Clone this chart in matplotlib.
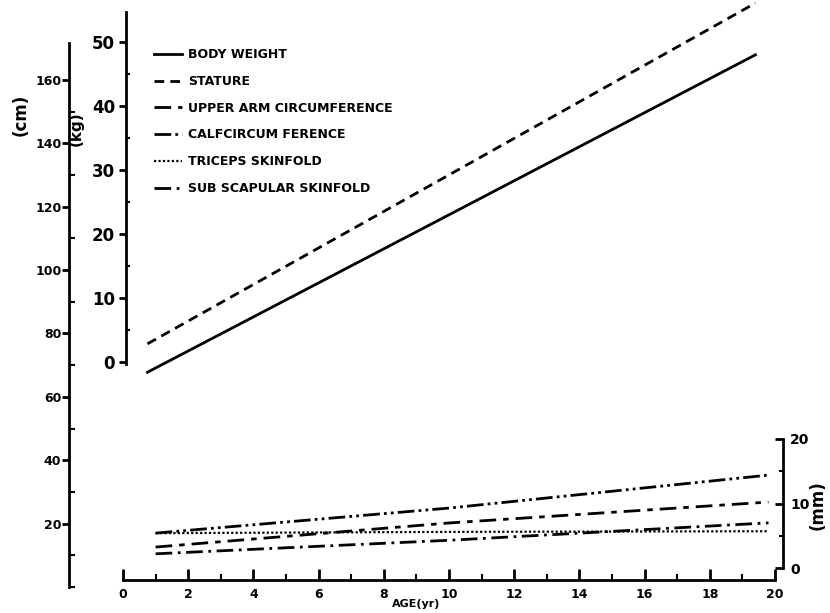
import matplotlib
matplotlib.use("Agg")
import matplotlib.pyplot as plt

plt.rcParams['font.family'] = ['DejaVu Sans']
plt.rcParams['font.weight'] = 'bold'

# growth lines (upper part)
age_growth = [0.75, 10.0, 19.4]
body_weight = [-1.6, 23.0, 48.0]      # kg
stature = [76.7, 130.0, 184.2]        # cm

# circumferences / skinfolds (lower part)
age_lower = [1.0, 10.0, 19.8]
calf_circ = [17.0, 24.9, 35.3]        # cm
upper_arm_circ = [12.6, 20.2, 26.8]   # cm
triceps_sf = [5.4, 5.6, 5.7]          # mm
subscap_sf = [2.2, 4.3, 7.0]          # mm

cm_ticks = [20, 40, 60, 80, 100, 120, 140, 160]
cm_minor = [0, 10, 30, 50, 70, 90, 110, 130, 150]
kg_ticks = [0, 10, 20, 30, 40, 50]
mm_ticks = [0, 10, 20]
age_ticks = list(range(0, 21, 2))

legend_labels = ["BODY WEIGHT", "STATURE", "UPPER ARM CIRCUMFERENCE",
                 "CALFCIRCUM FERENCE", "TRICEPS SKINFOLD", "SUB SCAPULAR SKINFOLD"]

W, H = 830, 613
X0, PX_YR = 123, 32.6   # pixel of age 0, pixels per year
L, R = 40, 820


def ylim_for(px_zero, px_per_unit):
    return (-(H - px_zero) / px_per_unit, px_zero / px_per_unit)


def xdata(px):
    return (px - X0) / PX_YR


fig = plt.figure(figsize=(W / 100, H / 100), dpi=100)
rect = [L / W, 0, (R - L) / W, 1]
ax_cm = fig.add_axes(rect)
ax_kg = fig.add_axes(rect, sharex=ax_cm)
ax_mm = fig.add_axes(rect, sharex=ax_cm)

ax_cm.set_xlim(xdata(L), xdata(R))
ax_cm.set_ylim(*ylim_for(587, 3.17))
ax_kg.set_ylim(*ylim_for(362, 6.4))
ax_mm.set_ylim(*ylim_for(568, 6.45))

for ax in (ax_cm, ax_kg, ax_mm):
    ax.patch.set_visible(False)
    for s in ax.spines.values():
        s.set_visible(False)
        s.set_linewidth(2)

# ---- cm axis (left, outermost) + age axis
ax_cm.spines['left'].set_visible(True)
ax_cm.spines['left'].set_position(('data', xdata(69)))
ax_cm.spines['left'].set_bounds(0, 171.6)
ax_cm.set_yticks(cm_ticks)
ax_cm.set_yticks(cm_minor, minor=True)
ax_cm.tick_params(axis='y', which='major', direction='out', length=5, width=2, pad=0.5, labelsize=9)
ax_cm.tick_params(axis='y', which='minor', direction='in', length=4, width=1.5)

ax_cm.spines['bottom'].set_visible(True)
ax_cm.spines['bottom'].set_position(('axes', 1 - 580 / H))
ax_cm.spines['bottom'].set_bounds(0, 20)
ax_cm.set_xticks(age_ticks)
ax_cm.set_xticks(range(1, 20, 2), minor=True)
ax_cm.tick_params(axis='x', which='major', direction='in', length=8, width=2, pad=6, labelsize=9)
ax_cm.tick_params(axis='x', which='minor', direction='in', length=4, width=1.5)

# ---- kg axis
ax_kg.xaxis.set_visible(False)
ax_kg.spines['left'].set_visible(True)
ax_kg.spines['left'].set_position(('data', xdata(126)))
ax_kg.spines['left'].set_bounds(-0.3, 54.7)
ax_kg.set_yticks(kg_ticks)
ax_kg.set_yticks(range(5, 55, 10), minor=True)
ax_kg.tick_params(axis='y', which='major', direction='out', length=5, width=2, pad=3, labelsize=12)
ax_kg.tick_params(axis='y', which='minor', direction='in', length=3, width=1.5)

# ---- mm axis (right)
ax_mm.xaxis.set_visible(False)
ax_mm.yaxis.tick_right()
ax_mm.spines['right'].set_visible(True)
ax_mm.spines['right'].set_position(('data', xdata(783)))
ax_mm.spines['right'].set_bounds(0, 20)
ax_mm.set_yticks(mm_ticks)
ax_mm.set_yticks([5, 15], minor=True)
ax_mm.tick_params(axis='y', which='major', direction='in', length=6, width=2, pad=5, labelsize=10)
ax_mm.tick_params(axis='y', which='minor', direction='in', length=3, width=1.5)

# ---- lines
lw = 2
h_bw, = ax_kg.plot(age_growth, body_weight, color='black', lw=lw, ls='-')
h_st, = ax_cm.plot(age_growth, stature, color='black', lw=lw, ls=(0, (3.5, 2.2)))
h_ua, = ax_cm.plot(age_lower, upper_arm_circ, color='black', lw=lw, ls=(0, (6, 2.5, 2, 2.5)))
h_cc, = ax_cm.plot(age_lower, calf_circ, color='black', lw=lw, ls=(0, (6, 1.5, 1, 1.5, 1, 1.5)))
h_tr, = ax_mm.plot(age_lower, triceps_sf, color='black', lw=1.6, ls=(0, (1, 1)))
h_ss, = ax_mm.plot(age_lower, subscap_sf, color='black', lw=lw, ls=(0, (6, 2, 1, 2)))

ax_kg.legend([h_bw, h_st, h_ua, h_cc, h_tr, h_ss], legend_labels,
             loc='upper left', bbox_to_anchor=(148 / W, 1 - 42 / H),
             bbox_transform=fig.transFigure, frameon=False,
             prop={'size': 9, 'weight': 'bold'},
             handlelength=2.2, handletextpad=0.5, labelspacing=1.1, borderpad=0)

# ---- axis titles
fig.text(21 / W, 1 - 115 / H, "(cm)", rotation=90, ha='center', va='center', fontsize=12, fontweight='bold')
fig.text(76 / W, 1 - 129 / H, "(kg)", rotation=90, ha='center', va='center', fontsize=11, fontweight='bold')
fig.text(818 / W, 1 - 505 / H, "(mm)", rotation=90, ha='center', va='center', fontsize=12, fontweight='bold')
fig.text(416 / W, 1 - 604 / H, "AGE(yr)", ha='center', va='center', fontsize=8, fontweight='bold')

fig.savefig("out.png", dpi=100)
